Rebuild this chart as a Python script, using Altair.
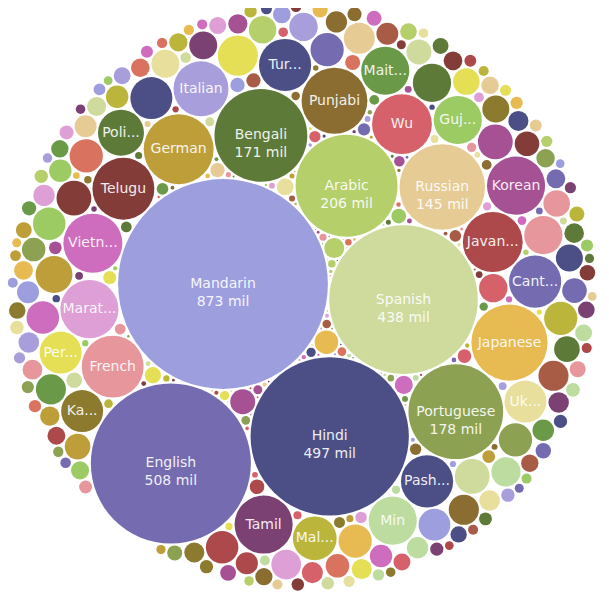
import numpy as np
import pandas as pd
import altair as alt

# ---- data (millions of speakers), in data order ----
names = ["Mandarin", "English", "Hindi", "Spanish", "Arabic", "Bengali", "Russian",
         "Portuguese", "German", "Punjabi", "Javanese", "Wu", "French", "Japanese",
         "Telugu", "Marathi", "Vietnamese", "Pashto", "Tamil", "Italian", "Turkish",
         "Cantonese", "Korean", "Gujarati", "Maithili", "Min", "Polish", "Malayalam",
         "Ukrainian", "Persian", "Kannada"]
values = [873, 508, 497, 438, 206, 171, 145, 178, 97, 86, 71, 71, 76, 115,
          76, 67, 69, 54, 67, 60, 54, 54, 67, 46, 46, 46, 42, 38, 35, 35, 35]
labels = ["Mandarin", "English", "Hindi", "Spanish", "Arabic", "Bengali", "Russian",
          "Portuguese", "German", "Punjabi", "Javan...", "Wu", "French", "Japanese",
          "Telugu", "Marat...", "Vietn...", "Pash...", "Tamil", "Italian", "Tur...",
          "Cant...", "Korean", "Guj...", "Mait...", "Min", "Poli...", "Mal...",
          "Uk...", "Per...", "Ka..."]

# unlabeled smaller languages
others = [
    35, 32, 29, 29, 27, 24, 24, 24, 22, 22, 22, 22, 22, 21, 21, 21,
    20, 19, 18, 18, 18, 17.5, 17, 16, 16, 15.6, 15.5, 15, 14.5, 14.5, 14, 14, 13, 13,
    12.4, 12.4, 12, 12, 11, 11, 11,
    10, 10, 10, 9.8, 9.6, 9.6, 9.5, 9.2, 9, 9, 9, 8.8, 8.5, 8.5, 8.3, 8, 8, 8, 8, 7.8,
    7.6, 7.5, 7.4, 7.2, 7, 7, 7, 6.9, 6.8, 6.6, 6.5, 6.5, 6.4, 6.2, 6.1, 6, 6,
    5.9, 5.8, 5.7, 5.7, 5.7, 5.6, 5.5, 5.5, 5.4, 5.3, 5.2, 5.1, 5, 5, 5, 4.9, 4.8, 4.7,
    4.6, 4.5, 4.5, 4.5, 4.4, 4.3, 4.2, 4.1, 4, 4, 4, 3.9, 3.9, 3.8, 3.7, 3.6, 3.6, 3.5,
    3.5, 3.5, 3.5, 3.4, 3.3, 3.3, 3.2, 3.2, 3.1, 3.1, 3, 3, 3, 3, 3,
    2.9, 2.9, 2.8, 2.8, 2.8, 2.7, 2.7, 2.6, 2.6, 2.6, 2.5, 2.5, 2.5, 2.5, 2.5, 2.4, 2.4,
    2.4, 2.3, 2.3, 2.3, 2.2, 2.2, 2.2, 2.2, 2.1, 2.1, 2.1, 2.0, 2.0, 2.0, 2.0, 2.0, 2.0,
    2.0, 1.9, 1.9, 1.9, 1.9, 1.8, 1.8, 1.8, 1.8, 1.8, 1.8, 1.7, 1.7, 1.7, 1.7, 1.7, 1.6,
    1.6, 1.6, 1.6, 1.6, 1.5, 1.5, 1.5, 1.5, 1.5, 1.5, 1.5, 1.5,
    1.45, 1.4, 1.4, 1.35, 1.3, 1.3, 1.25, 1.2, 1.2, 1.15, 1.1, 1.1, 1.05, 1.0, 1.0, 1.0,
    0.95, 0.95, 0.9, 0.9, 0.9, 0.85, 0.85, 0.8, 0.8, 0.8, 0.78, 0.75, 0.75, 0.72, 0.7,
    0.7, 0.68, 0.66, 0.65, 0.64, 0.62, 0.6, 0.6, 0.6,
    0.56, 0.54, 0.52, 0.5, 0.5, 0.48, 0.46, 0.45, 0.44, 0.42, 0.4, 0.4, 0.38, 0.36, 0.35,
    0.34, 0.33, 0.32, 0.3, 0.3, 0.29, 0.28, 0.27, 0.26, 0.25, 0.24, 0.23, 0.22, 0.21,
    0.2, 0.2, 0.19, 0.18, 0.17, 0.16,
    0.15, 0.14, 0.14, 0.13, 0.12, 0.12, 0.11, 0.1, 0.1, 0.1, 0.09, 0.09, 0.08, 0.08,
    0.08, 0.07, 0.07, 0.07, 0.06, 0.06, 0.06, 0.05, 0.05, 0.05, 0.05, 0.04, 0.04, 0.04,
    0.04, 0.03, 0.03, 0.03, 0.03, 0.03, 0.02, 0.02, 0.02, 0.02, 0.02, 0.02,
]

# ---- style ----
palette = {
    "navy": "#4b4f86", "purple": "#756bb1", "lavender": "#9c9ede", "lightpurple": "#a99edc",
    "darkgreen": "#5e7a38", "green": "#8ca252", "midgreen": "#6a9a48", "lime": "#b5cf6b",
    "palegreen": "#cedb9c", "brightgreen": "#9ccb64", "mint": "#bddc9f", "yellow": "#e4df55",
    "gold": "#e7ba52", "cream": "#e7cb94", "paleyellow": "#e8df9c", "mustard": "#bd9e39",
    "olive": "#bcb53c", "brown": "#8c6d31", "khaki": "#8c7a2f", "maroon": "#843c39",
    "red": "#ad494a", "rose": "#d6616b", "pink": "#e7969c", "salmon": "#d9725f",
    "rust": "#a85c45", "plum": "#7b4173", "magenta": "#a55194", "orchid": "#ce6dbd",
    "lilac": "#de9ed6",
}
named_colors = {
    "Mandarin": "lavender", "English": "purple", "Hindi": "navy", "Spanish": "palegreen",
    "Arabic": "lime", "Portuguese": "green", "Bengali": "darkgreen", "Russian": "cream",
    "Japanese": "gold", "German": "mustard", "Punjabi": "brown", "French": "pink",
    "Telugu": "maroon", "Wu": "rose", "Javanese": "red", "Vietnamese": "orchid",
    "Korean": "magenta", "Marathi": "lilac", "Tamil": "plum", "Italian": "lightpurple",
    "Cantonese": "purple", "Turkish": "navy", "Pashto": "navy", "Min": "mint",
    "Gujarati": "brightgreen", "Maithili": "midgreen", "Polish": "darkgreen",
    "Malayalam": "olive", "Ukrainian": "paleyellow", "Persian": "yellow", "Kannada": "khaki",
}
pkeys = list(palette.keys())

# ---- layout parameters (greedy circle packing in data order, pixel units) ----
S = 3.55                     # px per sqrt(million)
PAD = 2.0                    # px gap between bubbles
W = H = 593                  # plot area
CENTER = np.array([294.0, 288.0])    # pack centre
FIRST_OFFSET = np.array([-79.0, -12.0])  # first bubble relative to pack centre
SECOND_ANGLE = np.deg2rad(106.2)     # direction of second bubble from the first

all_vals = np.array(values + others, float)
n = len(all_vals)
rad = S * np.sqrt(all_vals) + PAD / 2
order = np.arange(n)

pos = np.zeros((n, 2))
px, py, pr = [], [], []
for idx in order:
    r = rad[idx]
    if len(pr) == 0:
        x, y = CENTER + FIRST_OFFSET
    elif len(pr) == 1:
        d = pr[0] + r
        x = px[0] + d * np.cos(SECOND_ANGLE); y = py[0] + d * np.sin(SECOND_ANGLE)
    else:
        PX = np.array(px); PY = np.array(py); PR = np.array(pr)
        DX = PX[None, :] - PX[:, None]; DY = PY[None, :] - PY[:, None]
        D = np.hypot(DX, DY)
        near = np.triu(D <= PR[:, None] + PR[None, :] + 2 * r, 1)
        ii, jj = np.where(near)
        dd = D[ii, jj]
        a = PR[ii] + r; b = PR[jj] + r
        xx = (a * a - b * b + dd * dd) / (2 * dd)
        h2 = a * a - xx * xx
        keep = h2 >= 0
        ii, jj, dd, xx, h = ii[keep], jj[keep], dd[keep], xx[keep], np.sqrt(h2[keep])
        ux = (PX[jj] - PX[ii]) / dd; uy = (PY[jj] - PY[ii]) / dd
        c1x = PX[ii] + xx * ux - h * uy; c1y = PY[ii] + xx * uy + h * ux
        c2x = PX[ii] + xx * ux + h * uy; c2y = PY[ii] + xx * uy - h * ux
        CX = np.concatenate([c1x, c2x]); CY = np.concatenate([c1y, c2y])
        dist = np.hypot(CX[:, None] - PX[None, :], CY[:, None] - PY[None, :])
        valid = (dist >= PR[None, :] + r - 1e-6).all(axis=1)
        score = np.hypot(CX - CENTER[0], CY - CENTER[1])
        score[~valid] = np.inf
        k = int(np.argmin(score))
        x, y = CX[k], CY[k]
    px.append(x); py.append(y); pr.append(r)
    pos[idx] = (x, y)

groups = [named_colors[nm] for nm in names] + [pkeys[(i * 11) % len(pkeys)] for i in range(len(others))]
lab = labels + [""] * len(others)
vlab = [f"{int(v)} mil" if v >= 140 else "" for v in values] + [""] * len(others)

df = pd.DataFrame({"x": pos[:, 0], "y": pos[:, 1], "v": all_vals, "group": groups,
                   "label": lab, "vlabel": vlab})

vmax = float(all_vals.max())
base = alt.Chart(df).encode(
    x=alt.X("x:Q", scale=alt.Scale(domain=[0, W], nice=False, zero=False), axis=None),
    y=alt.Y("y:Q", scale=alt.Scale(domain=[0, H], nice=False, zero=False, reverse=True), axis=None),
)
circles = base.mark_circle(opacity=1, strokeWidth=0).encode(
    size=alt.Size("v:Q", scale=alt.Scale(type="linear", domain=[0, vmax],
                                         range=[0, 4 * S * S * vmax], zero=True), legend=None),
    color=alt.Color("group:N", scale=alt.Scale(domain=pkeys, range=[palette[k] for k in pkeys]),
                    legend=None),
)
names_t = base.transform_filter(alt.datum.label != "").mark_text(
    font="DejaVu Sans", fontSize=14, color="white", opacity=0.9, baseline="middle", align="center"
).encode(text="label:N")
vals_t = base.transform_filter(alt.datum.vlabel != "").mark_text(
    font="DejaVu Sans", fontSize=14, color="white", opacity=0.9, baseline="middle", align="center", dy=18
).encode(text="vlabel:N")

chart = alt.layer(circles, names_t, vals_t).properties(
    width=W, height=H, padding=0, autosize=alt.AutoSizeParams(type="none")
).configure_view(stroke=None)

chart.save("out.html", embed_options={"renderer": "svg", "actions": False})
